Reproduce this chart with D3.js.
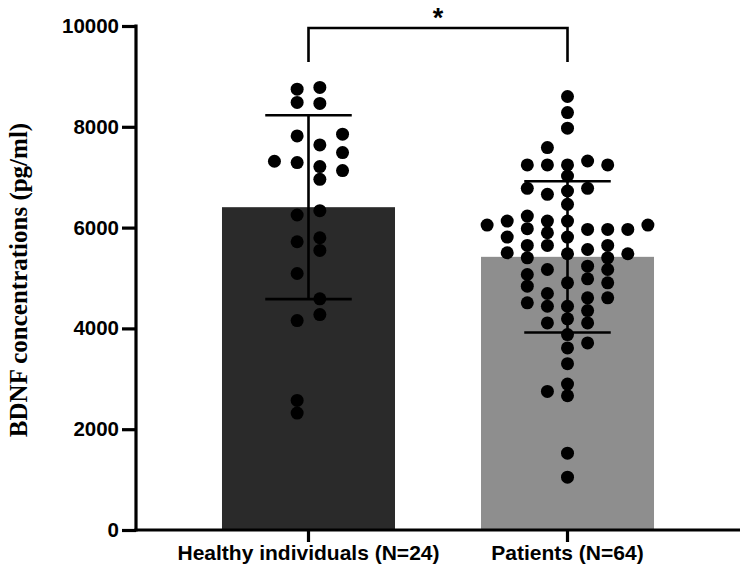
<!DOCTYPE html>
<html>
<head>
<meta charset="utf-8">
<script src="https://cdn.jsdelivr.net/npm/d3@7"></script>
<style>
  html, body { margin: 0; padding: 0; background: #fff; }
  svg { display: block; }
</style>
</head>
<body>
<svg id="chart" width="749" height="575"></svg>
<script>
// ---- data ----
const categories = ["Healthy individuals (N=24)", "Patients (N=64)"];
const means = [6405, 5420];
const errLow = [4580, 3920];
const errHigh = [8230, 6920];
const yTicks = [0, 2000, 4000, 6000, 8000, 10000];
const yLabel = "BDNF concentrations (pg/ml)";
const sigLabel = "*";

// individual observations: value and swarm lane (lane index relative to group centre)
const healthyValues = [7316,
  8747, 8483, 7819, 7290, 6250, 5719, 5089, 4155, 2571, 2320,
  8781, 8463, 7640, 7210, 6958, 6336, 5799, 5547, 4586, 4274,
  7853, 7489, 7131];
const healthyLanes = [-1.5,
  -0.5, -0.5, -0.5, -0.5, -0.5, -0.5, -0.5, -0.5, -0.5, -0.5,
  0.5, 0.5, 0.5, 0.5, 0.5, 0.5, 0.5, 0.5, 0.5, 0.5,
  1.5, 1.5, 1.5];

const patientValues = [6050,
  6129, 5812, 5501,
  7243, 6779, 6229, 5978, 5646, 5401, 5069, 4837, 4507,
  7588, 7243, 6660, 6129, 5898, 5646, 5169, 4692, 4440, 4109, 2750,
  8601, 8283, 7972, 7243, 7024, 6726, 6461, 6129, 5812, 5481, 4904, 4440, 4189, 3877, 3612, 3300, 2896, 2664, 1525, 1048,
  7322, 6779, 5964, 5566, 5235, 4984, 4606, 4354, 4109, 3711,
  7243, 5964, 5646, 5401, 5169, 4904, 4606,
  5964, 5481,
  6050];
const patientLanes = [-4,
  -3, -3, -3,
  -2, -2, -2, -2, -2, -2, -2, -2, -2,
  -1, -1, -1, -1, -1, -1, -1, -1, -1, -1, -1,
  0, 0, 0, 0, 0, 0, 0, 0, 0, 0, 0, 0, 0, 0, 0, 0, 0, 0, 0, 0,
  1, 1, 1, 1, 1, 1, 1, 1, 1, 1,
  2, 2, 2, 2, 2, 2, 2,
  3, 3,
  4];

const groupValues = [healthyValues, patientValues];
const groupLanes = [healthyLanes, patientLanes];
const barColors = ["#2a2a2a", "#8e8e8e"];

(function () {
// ---- layout ----
const svg = d3.select("#chart");
const mLeft = 136, mRight = 740, mTop = 26, mBottom = 530;

const x = d3.scaleBand().domain(categories).range([mLeft, mRight])
  .paddingInner(0.332).paddingOuter(0.332);
const y = d3.scaleLinear().domain([0, 10000]).range([mBottom, mTop]);
const laneGap = [22.7, 20.1];

// bars
svg.selectAll("rect.bar").data(categories).enter().append("rect")
  .attr("class", "bar")
  .attr("x", d => x(d))
  .attr("width", x.bandwidth())
  .attr("y", (d, i) => y(means[i]))
  .attr("height", (d, i) => y(0) - y(means[i]))
  .attr("fill", (d, i) => barColors[i]);

// error bars
const eb = svg.append("g").attr("stroke", "#000").attr("stroke-width", 2.6).attr("fill", "none");
categories.forEach((c, i) => {
  const cx = x(c) + x.bandwidth() / 2;
  const capHalf = x.bandwidth() / 4;
  eb.append("line").attr("x1", cx).attr("x2", cx).attr("y1", y(errLow[i])).attr("y2", y(errHigh[i]));
  eb.append("line").attr("x1", cx - capHalf).attr("x2", cx + capHalf).attr("y1", y(errHigh[i])).attr("y2", y(errHigh[i]));
  eb.append("line").attr("x1", cx - capHalf).attr("x2", cx + capHalf).attr("y1", y(errLow[i])).attr("y2", y(errLow[i]));
});

// points
categories.forEach((c, i) => {
  const cx = x(c) + x.bandwidth() / 2;
  const pts = groupValues[i].map((v, k) => ({ v, lane: groupLanes[i][k] }));
  svg.append("g").selectAll("circle").data(pts).enter().append("circle")
    .attr("cx", d => cx + d.lane * laneGap[i])
    .attr("cy", d => y(d.v))
    .attr("r", 6.5)
    .attr("fill", "#000");
});

// axes
const yAxis = d3.axisLeft(y).tickValues(yTicks).tickFormat(d3.format("d"))
  .tickSize(14).tickSizeOuter(0).tickPadding(3);
const gy = svg.append("g").attr("transform", `translate(${mLeft},0)`).call(yAxis);
gy.select(".domain").attr("stroke-width", 3.2).attr("d", `M0,${mBottom + 1.6}V${mTop - 1.6}`);
gy.selectAll(".tick line").attr("stroke-width", 3.2);
gy.selectAll(".tick text")
  .attr("font-family", "'Liberation Sans', Arial, sans-serif")
  .attr("font-weight", "bold").attr("font-size", 20.5).attr("fill", "#000");

const xAxis = d3.axisBottom(x).tickSize(12).tickSizeOuter(0).tickPadding(3);
const gx = svg.append("g").attr("transform", `translate(0,${mBottom})`).call(xAxis);
gx.select(".domain").attr("stroke-width", 3.2).attr("d", `M${mLeft - 1.6},0H${mRight}`);
gx.selectAll(".tick line").attr("stroke-width", 3.2);
gx.selectAll(".tick text")
  .attr("font-family", "'Liberation Sans', Arial, sans-serif")
  .attr("font-weight", "bold").attr("font-size", 21).attr("fill", "#000");

// y title
svg.append("text")
  .attr("transform", `translate(27,${(mTop + mBottom) / 2 + 2}) rotate(-90)`)
  .attr("text-anchor", "middle")
  .attr("font-family", "'Liberation Serif', 'Times New Roman', serif")
  .attr("font-weight", "bold").attr("font-size", 25)
  .text(yLabel);

// significance bracket
const x1 = x(categories[0]) + x.bandwidth() / 2, x2 = x(categories[1]) + x.bandwidth() / 2;
const by = y(10000) + 2, bdrop = 34;
svg.append("path")
  .attr("d", `M${x1},${by + bdrop}V${by}H${x2}V${by + bdrop}`)
  .attr("fill", "none").attr("stroke", "#000").attr("stroke-width", 2.6);
svg.append("text")
  .attr("x", (x1 + x2) / 2).attr("y", by - 1)
  .attr("text-anchor", "middle")
  .attr("font-family", "'Liberation Sans', Arial, sans-serif")
  .attr("font-weight", "bold").attr("font-size", 27)
  .text(sigLabel);
})();
</script>
</body>
</html>
